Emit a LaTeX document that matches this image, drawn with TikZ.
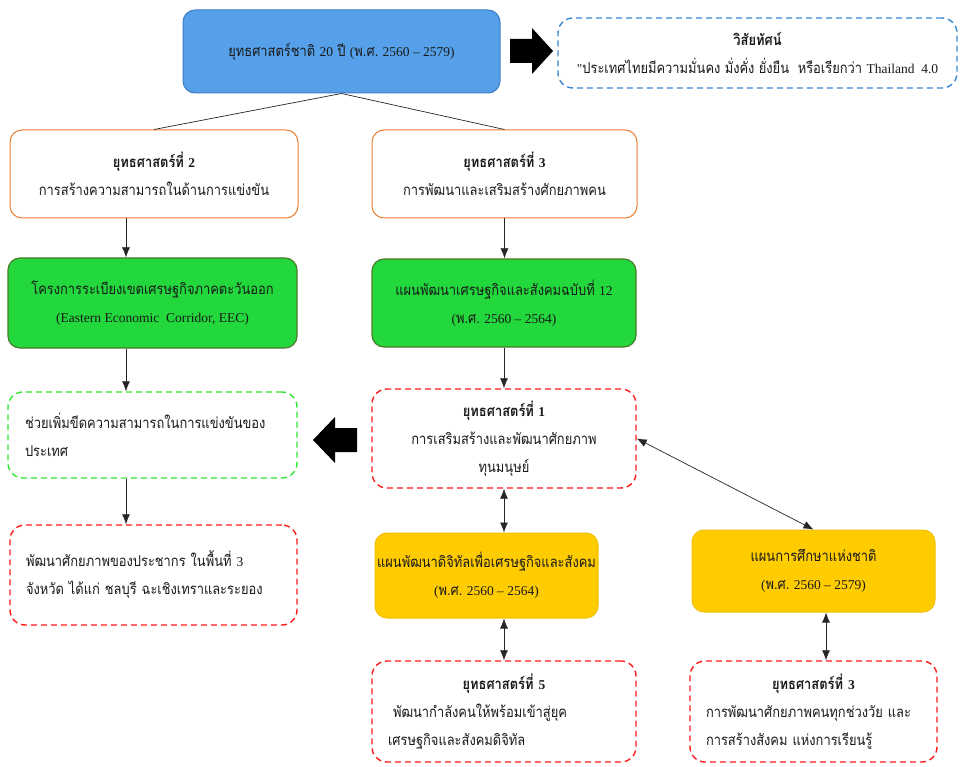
\documentclass[tikz,border=0pt]{standalone}
\usepackage{fontspec}
\setmainfont[Script=Thai,FakeStretch=0.86]{Loma}
\newfontfamily\lserif[Scale=0.9]{Liberation Serif}
\newcommand\tl[1]{{\lserif #1}}
\usetikzlibrary{arrows.meta}

\definecolor{topfill}{HTML}{55A0E8}
\definecolor{topline}{HTML}{3F7FC7}
\definecolor{visionline}{HTML}{3A86D0}
\definecolor{orangeline}{HTML}{ED7D31}
\definecolor{greenfill}{HTML}{22D83C}
\definecolor{greenline}{HTML}{4A7A2A}
\definecolor{dashgreen}{HTML}{33E633}
\definecolor{dashred}{HTML}{FF1A1A}
\definecolor{yellowfill}{HTML}{FFCC00}
\definecolor{yellowline}{HTML}{F0C000}
\definecolor{inktext}{HTML}{1A1A1A}

\tikzset{
  box/.style={rounded corners=12pt, align=center, inner sep=0pt, text=inktext,
    font=\fontsize{15}{28}\selectfont},
  topbox/.style={box, fill=topfill, draw=topline, line width=1pt},
  orangebox/.style={box, fill=white, draw=orangeline, line width=1pt},
  greenbox/.style={box, fill=greenfill, draw=greenline, line width=1.2pt},
  yellowbox/.style={box, fill=yellowfill, draw=yellowline, line width=1pt},
  dashbox/.style={box, rounded corners=15pt, fill=white, line width=1.4pt,
    dash pattern=on 6pt off 4pt},
  bluedash/.style={dashbox, draw=visionline},
  greendash/.style={dashbox, draw=dashgreen},
  reddash/.style={dashbox, draw=dashred},
  plainline/.style={draw=black!85, line width=0.7pt},
  link/.style={plainline, -{Latex[length=10pt,width=8pt]}},
  twoway/.style={plainline, {Latex[length=10pt,width=8pt]}-{Latex[length=10pt,width=8pt]}},
}

\begin{document}
\begin{tikzpicture}[x=1pt,y=-1pt]
\fill[white] (0,0) rectangle (961,767);
\useasboundingbox (0,0) rectangle (961,767);

% national strategy and vision
\node[topbox, minimum width=317pt, minimum height=83pt] (top) at (341.5,51.5)
  {ยุทธศาสตร์ชาติ \tl{20} ปี \tl{(}พ.ศ.\ \tl{2560 – 2579)}};
\node[bluedash, minimum width=399pt, minimum height=70pt] (vision) at (757.5,53)
  {\textbf{วิสัยทัศน์}\\\tl{"}ประเทศไทยมีความมั่นคง มั่งคั่ง ยั่งยืน\ \ หรือเรียกว่า \tl{Thailand\ \ 4.0}};

% strategies 2 and 3
\node[orangebox, minimum width=288pt, minimum height=88pt] (s2) at (154,174)
  {\textbf{ยุทธศาสตร์ที่ \tl{2}}\\การสร้างความสามารถในด้านการแข่งขัน};
\node[orangebox, minimum width=265pt, minimum height=88pt] (s3) at (504.5,174)
  {\textbf{ยุทธศาสตร์ที่ \tl{3}}\\การพัฒนาและเสริมสร้างศักยภาพคน};

% plans
\node[greenbox, minimum width=289pt, minimum height=90pt] (eec) at (152.5,303)
  {โครงการระเบียงเขตเศรษฐกิจภาคตะวันออก\\\tl{(Eastern Economic\ \ Corridor, EEC)}};
\node[greenbox, minimum width=264pt, minimum height=88pt] (nesdp) at (504,303)
  {แผนพัฒนาเศรษฐกิจและสังคมฉบับที่ \tl{12}\\\tl{(}พ.ศ.\ \tl{2560 – 2564)}};

% outcomes and strategy 1
\node[greendash, minimum width=289pt, minimum height=86pt, text width=255pt, align=left] (compete) at (152.5,435)
  {ช่วยเพิ่มขีดความสามารถในการแข่งขันของ\\ประเทศ};
\node[reddash, minimum width=264pt, minimum height=99pt] (s1) at (504,438.5)
  {\textbf{ยุทธศาสตร์ที่ \tl{1}}\\การเสริมสร้างและพัฒนาศักยภาพ\\ทุนมนุษย์};
\node[reddash, minimum width=287pt, minimum height=100pt, text width=255pt, align=left] (people) at (153.5,575)
  {พัฒนาศักยภาพของประชากร ในพื้นที่ \tl{3}\\จังหวัด ได้แก่ ชลบุรี ฉะเชิงเทราและระยอง};

% digital and education plans
\node[yellowbox, minimum width=223pt, minimum height=85pt] (digital) at (486.5,575.5)
  {แผนพัฒนาดิจิทัลเพื่อเศรษฐกิจและสังคม\\\tl{(}พ.ศ.\ \tl{2560 – 2564)}};
\node[yellowbox, minimum width=243pt, minimum height=82pt] (edu) at (813.5,571)
  {แผนการศึกษาแห่งชาติ\\\tl{(}พ.ศ.\ \tl{2560 – 2579)}};

% strategies 5 and 3 at the bottom
\node[reddash, minimum width=264pt, minimum height=101pt, text width=232pt, align=left] (s5) at (504,711.5)
  {\makebox[\linewidth]{\textbf{ยุทธศาสตร์ที่ \tl{5}}}\\\ พัฒนากำลังคนให้พร้อมเข้าสู่ยุค\\เศรษฐกิจและสังคมดิจิทัล};
\node[reddash, minimum width=247pt, minimum height=101pt, text width=215pt, align=left] (s3b) at (813.5,711.5)
  {\makebox[\linewidth]{\textbf{ยุทธศาสตร์ที่ \tl{3}}}\\การพัฒนาศักยภาพคนทุกช่วงวัย และ\\การสร้างสังคม แห่งการเรียนรู้};

% block arrows
\fill (510,39) -- (532,39) -- (532,28) -- (553,51) -- (532,74) -- (532,63) -- (510,63) -- cycle;
\fill (357,428) -- (335,428) -- (335,417) -- (313,440) -- (335,463) -- (335,452) -- (357,452) -- cycle;

% connectors
\coordinate (colL) at (126,0);
\coordinate (colR) at (826,0);
\draw[plainline] (top.south) -- (s2.north);
\draw[plainline] (top.south) -- (s3.north);
\draw[link] (s2.south -| colL) -- (eec.north -| colL);
\draw[link] (eec.south -| colL) -- (compete.north -| colL);
\draw[link] (compete.south -| colL) -- (people.north -| colL);
\draw[link] (s3.south) -- (s3.south |- nesdp.north);
\draw[link] (nesdp.south) -- (s1.north);
\draw[twoway] (s1.south) -- (s1.south |- digital.north);
\draw[twoway] (s1.east) -- (edu.north);
\draw[twoway] (digital.south -| s5.north) -- (s5.north);
\draw[twoway] (edu.south -| colR) -- (s3b.north -| colR);
\end{tikzpicture}
\end{document}
